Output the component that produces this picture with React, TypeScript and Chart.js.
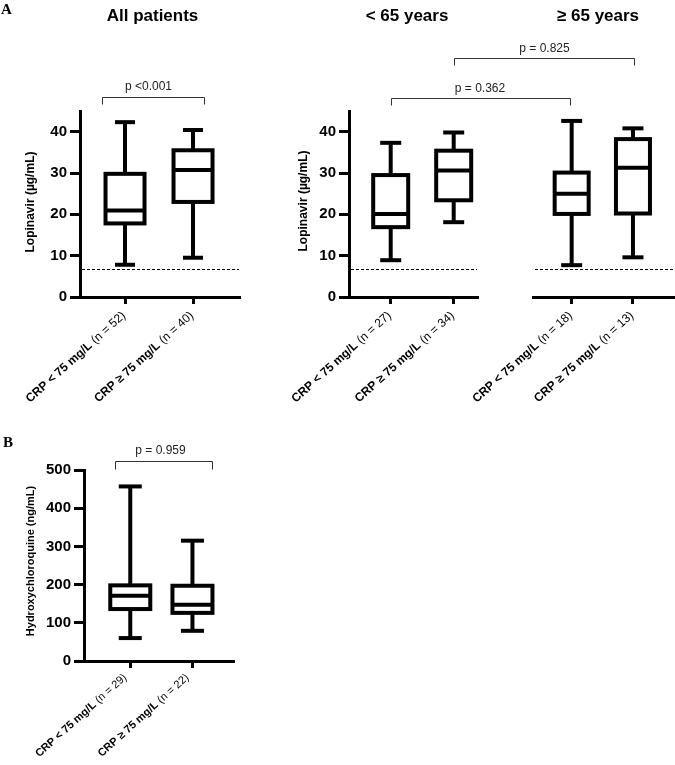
import { useEffect, useRef } from 'react';
import { Chart, registerables } from 'chart.js';

Chart.register(...registerables);

const SANS = "'Liberation Sans', Arial, Helvetica, sans-serif";
const SERIF = "'Liberation Serif', 'Times New Roman', serif";

// ---------- data ----------
const crpGroups = ['CRP < 75 mg/L', 'CRP \u2265 75 mg/L'];
const panelTitles = ['All patients', '< 65 years', '\u2265 65 years'];
const lopinavirTitle = 'Lopinavir (\u00b5g/mL)';
const hcqTitle = 'Hydroxychloroquine (ng/mL)';

const allN = [52, 40];
const allMin = [7.8, 9.5];
const allQ1 = [17.8, 23.0];
const allMedian = [20.9, 30.7];
const allQ3 = [29.8, 35.5];
const allMax = [42.3, 40.4];

const youngN = [27, 34];
const youngMin = [8.9, 18.1];
const youngQ1 = [16.9, 23.4];
const youngMedian = [20.1, 30.6];
const youngQ3 = [29.5, 35.4];
const youngMax = [37.3, 39.8];

const oldN = [18, 13];
const oldMin = [7.7, 9.6];
const oldQ1 = [20.1, 20.2];
const oldMedian = [25.0, 31.3];
const oldQ3 = [30.1, 38.2];
const oldMax = [42.6, 40.8];

const hcqN = [29, 22];
const hcqMin = [60, 79];
const hcqQ1 = [136, 126];
const hcqMedian = [171, 147];
const hcqQ3 = [198, 197];
const hcqMax = [457, 315];

const lopinavirTicks = [0, 10, 20, 30, 40];
const hcqTicks = [0, 100, 200, 300, 400, 500];
const lopinavirThreshold = 6.8;

const pValues = ['p <0.001', 'p = 0.362', 'p = 0.825', 'p = 0.959'];

// ---------- layout ----------
const W = 675;
const H = 765;
const YAXIS_W = 50;
const XAXIS_H = 10;
const LABEL_ANGLE = (42 * Math.PI) / 180;

type Panel = {
  n: number[]; min: number[]; q1: number[]; med: number[]; q3: number[]; max: number[];
  yMax: number; yTicks: number[]; threshold: number | null; showY: boolean;
  yTitle: string | null; area: { l: number; r: number; t: number; b: number };
  xRange: [number, number]; boxW: number; capW: number; tickFont: number;
  yTitleX: number; yTitleY: number; yTitleFont: number;
  labelDx: number; labelDy: number; labelFont: number;
};

const panels: Panel[] = [
  {
    n: allN, min: allMin, q1: allQ1, med: allMedian, q3: allQ3, max: allMax,
    yMax: 45, yTicks: lopinavirTicks, threshold: lopinavirThreshold, showY: true,
    yTitle: lopinavirTitle, area: { l: 80, r: 239, t: 111, b: 297 },
    xRange: [0.338, 2.676], boxW: 43, capW: 20, tickFont: 15,
    yTitleX: 31, yTitleY: 202, yTitleFont: 12, labelDx: -1, labelDy: 17, labelFont: 12,
  },
  {
    n: youngN, min: youngMin, q1: youngQ1, med: youngMedian, q3: youngQ3, max: youngMax,
    yMax: 45, yTicks: lopinavirTicks, threshold: lopinavirThreshold, showY: true,
    yTitle: lopinavirTitle, area: { l: 349, r: 477, t: 111, b: 297 },
    xRange: [0.338, 2.37], boxW: 39, capW: 21, tickFont: 15,
    yTitleX: 304, yTitleY: 201, yTitleFont: 12, labelDx: -1, labelDy: 17, labelFont: 12,
  },
  {
    n: oldN, min: oldMin, q1: oldQ1, med: oldMedian, q3: oldQ3, max: oldMax,
    yMax: 45, yTicks: lopinavirTicks, threshold: lopinavirThreshold, showY: false,
    yTitle: null, area: { l: 533, r: 675, t: 111, b: 297 },
    xRange: [0.369, 2.686], boxW: 38, capW: 21, tickFont: 15,
    yTitleX: 0, yTitleY: 0, yTitleFont: 12, labelDx: -1, labelDy: 17, labelFont: 12,
  },
  {
    n: hcqN, min: hcqMin, q1: hcqQ1, med: hcqMedian, q3: hcqQ3, max: hcqMax,
    yMax: 500, yTicks: hcqTicks, threshold: null, showY: true,
    yTitle: hcqTitle, area: { l: 84, r: 233, t: 470, b: 661 },
    xRange: [0.256, 2.652], boxW: 44, capW: 23, tickFont: 15,
    yTitleX: 30.5, yTitleY: 561, yTitleFont: 11, labelDx: -5, labelDy: 15, labelFont: 11,
  },
];

// brackets: [panel, category, dx] for both ends
const brackets = [
  { a: [0, 0, -23], b: [0, 1, 11], y: 96.5, drop: 7, text: pValues[0], tx: 148.5, ty: 89.5 },
  { a: [1, 0, 0], b: [2, 0, -1.5], y: 98, drop: 7, text: pValues[1], tx: 480, ty: 91.5 },
  { a: [1, 1, 0.6], b: [2, 1, 1], y: 58, drop: 7, text: pValues[2], tx: 544.5, ty: 51.5 },
  { a: [3, 0, -15], b: [3, 1, 19.5], y: 461, drop: 8, text: pValues[3], tx: 160.5, ty: 453.5 },
];

const titleSpec = [
  { text: panelTitles[0], x: 152.5, y: 20.5 },
  { text: panelTitles[1], x: 407, y: 20.5 },
  { text: panelTitles[2], x: 598, y: 20.5 },
];

function boxPlotPlugin(p: Panel) {
  return {
    id: 'boxplot',
    beforeDatasetsDraw(chart: any) {
      if (p.threshold == null) return;
      const { ctx, chartArea, scales } = chart;
      const yy = Math.round(scales.y.getPixelForValue(p.threshold)) + 0.5;
      ctx.save();
      ctx.strokeStyle = '#000';
      ctx.lineWidth = 1;
      ctx.setLineDash([3, 2]);
      ctx.beginPath();
      ctx.moveTo(chartArea.left + 2, yy);
      ctx.lineTo(chartArea.right, yy);
      ctx.stroke();
      ctx.restore();
    },
    afterDatasetsDraw(chart: any) {
      const { ctx, scales } = chart;
      const x = scales.x;
      const y = scales.y;
      ctx.save();
      ctx.strokeStyle = '#000';
      ctx.lineWidth = 4;
      ctx.lineCap = 'butt';
      const line = (x1: number, y1: number, x2: number, y2: number) => {
        ctx.beginPath();
        ctx.moveTo(x1, y1);
        ctx.lineTo(x2, y2);
        ctx.stroke();
      };
      p.q1.forEach((_, i) => {
        const cx = x.getPixelForValue(i + 1);
        const yMin = y.getPixelForValue(p.min[i]);
        const yQ1 = y.getPixelForValue(p.q1[i]);
        const yMed = y.getPixelForValue(p.med[i]);
        const yQ3 = y.getPixelForValue(p.q3[i]);
        const yMax = y.getPixelForValue(p.max[i]);
        line(cx, yMax, cx, yQ3);
        line(cx, yQ1, cx, yMin);
        line(cx - p.capW / 2, yMax, cx + p.capW / 2, yMax);
        line(cx - p.capW / 2, yMin, cx + p.capW / 2, yMin);
        ctx.strokeRect(cx - p.boxW / 2 + 2, yQ3, p.boxW - 4, yQ1 - yQ3);
        line(cx - p.boxW / 2 + 2, yMed, cx + p.boxW / 2 - 2, yMed);
      });
      ctx.restore();
    },
    afterDraw(chart: any) {
      const { ctx, chartArea, scales } = chart;
      const x = scales.x;
      ctx.save();
      ctx.fillStyle = '#000';
      p.n.forEach((n, i) => {
        const tx = x.getPixelForValue(i + 1) + p.labelDx;
        const ty = chartArea.bottom + p.labelDy;
        ctx.save();
        ctx.translate(tx, ty);
        ctx.rotate(-LABEL_ANGLE);
        ctx.textBaseline = 'middle';
        ctx.textAlign = 'right';
        const rest = `(n = ${n})`;
        ctx.font = `${p.labelFont}px ${SANS}`;
        const w = ctx.measureText(rest).width;
        ctx.fillText(rest, 0, 0);
        ctx.font = `bold ${p.labelFont}px ${SANS}`;
        ctx.fillText(crpGroups[i] + ' ', -w, 0);
        ctx.restore();
      });
      if (p.yTitle) {
        ctx.save();
        ctx.translate(p.yTitleX, p.yTitleY);
        ctx.rotate(-Math.PI / 2);
        ctx.textAlign = 'center';
        ctx.textBaseline = 'middle';
        ctx.font = `bold ${p.yTitleFont}px ${SANS}`;
        ctx.fillText(p.yTitle, 0, 0);
        ctx.restore();
      }
      ctx.restore();
    },
  };
}

function makeChart(canvas: HTMLCanvasElement, p: Panel) {
  const yW = p.showY ? YAXIS_W : 0;
  return new Chart(canvas, {
    type: 'bar',
    data: {
      datasets: [
        {
          data: p.q1.map((v, i) => ({ x: i + 1, y: [v, p.q3[i]] })) as any,
          backgroundColor: '#ffffff',
          borderWidth: 0,
          barThickness: p.boxW,
        },
      ],
    },
    options: {
      animation: false,
      responsive: false,
      events: [],
      layout: {
        padding: {
          left: p.area.l - yW,
          right: W - p.area.r,
          top: p.area.t,
          bottom: H - p.area.b - XAXIS_H,
        },
      },
      plugins: { legend: { display: false }, tooltip: { enabled: false }, title: { display: false } },
      scales: {
        x: {
          type: 'linear',
          min: p.xRange[0],
          max: p.xRange[1],
          offset: false,
          afterBuildTicks: (s: any) => {
            s.ticks = p.q1.map((_, i) => ({ value: i + 1 }));
          },
          afterFit: (s: any) => {
            s.height = XAXIS_H;
          },
          ticks: { display: false },
          grid: {
            display: true, offset: false, drawOnChartArea: false, drawTicks: true,
            tickLength: 7, tickWidth: 3, tickColor: '#000', color: '#000', lineWidth: 3,
          },
          border: { display: true, width: 3, color: '#000' },
        } as any,
        y: {
          type: 'linear',
          min: 0,
          max: p.yMax,
          display: p.showY,
          afterBuildTicks: (s: any) => {
            s.ticks = p.yTicks.map((v) => ({ value: v }));
          },
          afterFit: (s: any) => {
            s.width = yW;
          },
          ticks: { color: '#000', font: { family: SANS, weight: 'bold', size: p.tickFont }, padding: 3 },
          grid: {
            drawOnChartArea: false, drawTicks: true, tickLength: 10, tickWidth: 3,
            tickColor: '#000', color: '#000', lineWidth: 3,
          },
          border: { display: true, width: 3, color: '#000' },
        } as any,
      },
    },
    plugins: [boxPlotPlugin(p) as any],
  });
}

export default function App() {
  const refs = [useRef<HTMLCanvasElement>(null), useRef<HTMLCanvasElement>(null), useRef<HTMLCanvasElement>(null), useRef<HTMLCanvasElement>(null)];
  const overlayRef = useRef<HTMLCanvasElement>(null);

  useEffect(() => {
    const charts = panels.map((p, i) => makeChart(refs[i].current as HTMLCanvasElement, p));
    const ov = overlayRef.current!.getContext('2d')!;
    ov.clearRect(0, 0, W, H);
    ov.fillStyle = '#000';

    // panel letters
    ov.font = `bold 15px ${SERIF}`;
    ov.textAlign = 'left';
    ov.textBaseline = 'alphabetic';
    ov.fillText('A', 1, 13.5);
    ov.fillText('B', 3, 447);

    // titles
    ov.font = `bold 17px ${SANS}`;
    ov.textAlign = 'center';
    titleSpec.forEach((t) => ov.fillText(t.text, t.x, t.y));

    // brackets
    const px = (e: number[]) => charts[e[0]].scales.x.getPixelForValue(e[1] + 1) + e[2];
    ov.strokeStyle = '#333';
    ov.lineWidth = 1;
    brackets.forEach((b) => {
      const x1 = Math.round(px(b.a)) + 0.5;
      const x2 = Math.round(px(b.b)) + 0.5;
      const yy = Math.round(b.y) + 0.5;
      ov.beginPath();
      ov.moveTo(x1, yy + b.drop);
      ov.lineTo(x1, yy);
      ov.lineTo(x2, yy);
      ov.lineTo(x2, yy + b.drop);
      ov.stroke();
      ov.font = `12px ${SANS}`;
      ov.fillStyle = '#222';
      ov.textAlign = 'center';
      ov.fillText(b.text, b.tx, b.ty);
    });

    return () => {
      charts.forEach((c) => c.destroy());
      ov.clearRect(0, 0, W, H);
    };
  }, []);

  const cs: React.CSSProperties = { position: 'absolute', left: 0, top: 0, width: W, height: H };
  return (
    <div style={{ position: 'absolute', left: 0, top: 0, width: W, height: H, background: '#fff' }}>
      {refs.map((r, i) => (
        <canvas key={i} ref={r} width={W} height={H} style={cs} />
      ))}
      <canvas ref={overlayRef} width={W} height={H} style={{ ...cs, pointerEvents: 'none' }} />
    </div>
  );
}
